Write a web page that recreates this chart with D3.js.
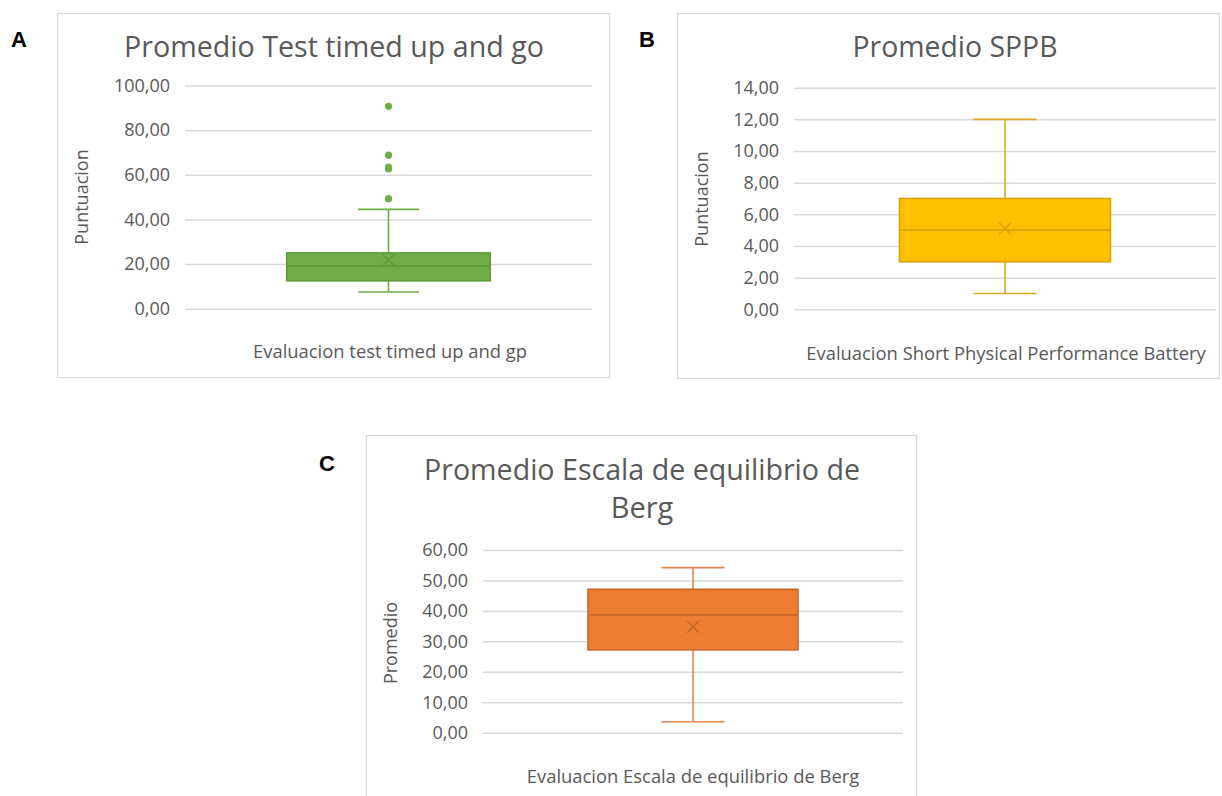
<!DOCTYPE html>
<html>
<head>
<meta charset="utf-8">
<script src="https://cdn.jsdelivr.net/npm/d3@7"></script>
<style>
  html, body { margin: 0; padding: 0; background: #ffffff; }
  svg { display: block; }
</style>
</head>
<body>
<svg id="chart" width="1222" height="796"></svg>
<script>
// ---------------- DATA ----------------
const panelLetters = ["A", "B", "C"];
const chartTitles = [
  ["Promedio Test timed up and go"],
  ["Promedio SPPB"],
  ["Promedio Escala de equilibrio de", "Berg"]
];
const categories = [
  "Evaluacion test timed up and gp",
  "Evaluacion Short Physical Performance Battery",
  "Evaluacion Escala de equilibrio de Berg"
];
const yTitles = ["Puntuacion", "Puntuacion", "Promedio"];

// box statistics: [min whisker, Q1, median, Q3, max whisker, mean]
const tugStats   = [7.5, 12.5, 19.1, 25.0, 44.5, 21.8];
const tugOutliers = [49.3, 62.6, 63.4, 68.8, 90.7];
const sppbStats  = [1.0, 3.0, 5.0, 7.0, 12.0, 5.1];
const sppbOutliers = [];
const bergStats  = [3.6, 27.2, 38.7, 47.1, 54.2, 34.8];
const bergOutliers = [];

const tugTicks  = [0, 20, 40, 60, 80, 100];
const sppbTicks = [0, 2, 4, 6, 8, 10, 12, 14];
const bergTicks = [0, 10, 20, 30, 40, 50, 60];

// ---------------- LAYOUT ----------------
const panels = [
  { stats: tugStats, outliers: tugOutliers, ticks: tugTicks,
    fill: "#70AD47", stroke: "#5F9A3B", whisker: "#70AD47",
    frame: {x: 57.5, y: 13.5, w: 552, h: 364},
    plot: {left: 185, right: 592, top: 85.5, bottom: 308.7},
    letter: {x: 11, y: 47}, title: {x: 334, y: 57, w: 420, lh: 38},
    xt: {x: 390, y: 358}, yt: {x: 83, y: 197} },
  { stats: sppbStats, outliers: sppbOutliers, ticks: sppbTicks,
    fill: "#FFC000", stroke: "#D9A400", whisker: "#DCAA22",
    frame: {x: 677.5, y: 13.5, w: 542, h: 365},
    plot: {left: 794, right: 1216, top: 87.7, bottom: 309.3},
    letter: {x: 639, y: 47}, title: {x: 955, y: 57, w: 205, lh: 38},
    xt: {x: 1006, y: 360}, yt: {x: 703, y: 199} },
  { stats: bergStats, outliers: bergOutliers, ticks: bergTicks,
    fill: "#ED7D31", stroke: "#C9672A", whisker: "#E08A55",
    frame: {x: 366.5, y: 435.5, w: 550, h: 400},
    plot: {left: 483, right: 903, top: 550, bottom: 732.7},
    letter: {x: 319, y: 471}, title: {x: 642, y: 480, w: 436, lh: 38},
    xt: {x: 693, y: 783}, yt: {x: 392, y: 643} }
];

const svg = d3.select("#chart");
const fmt = v => d3.format(".2f")(v).replace(".", ",");
const textColor = "#595959";
const font = "'Open Sans', 'Noto Sans', sans-serif";

panels.forEach((p, i) => {
  const g = svg.append("g");

  // frame
  g.append("rect")
    .attr("x", p.frame.x).attr("y", p.frame.y)
    .attr("width", p.frame.w).attr("height", p.frame.h)
    .attr("fill", "#ffffff").attr("stroke", "#d9d9d9").attr("stroke-width", 1.2);

  // panel letter
  svg.append("text")
    .attr("x", p.letter.x).attr("y", p.letter.y)
    .attr("font-family", "'Liberation Sans', Arial, sans-serif")
    .attr("font-weight", "bold").attr("font-size", 22)
    .attr("fill", "#000").text(panelLetters[i]);

  // title
  chartTitles[i].forEach((line, k) => {
    const t = g.append("text")
      .attr("x", p.title.x).attr("y", p.title.y + k * p.title.lh)
      .attr("text-anchor", "middle")
      .attr("font-family", font).attr("font-size", 29)
      .attr("fill", textColor).text(line);
    if (k === 0) t.attr("textLength", p.title.w).attr("lengthAdjust", "spacingAndGlyphs");
  });

  const yMax = d3.max(p.ticks);
  const y = d3.scaleLinear().domain([0, yMax]).range([p.plot.bottom, p.plot.top]);
  const x = d3.scaleBand().domain([categories[i]]).range([p.plot.left, p.plot.right])
    .paddingInner(0).paddingOuter(0.5);

  // gridlines
  const grid = d3.axisLeft(y).tickValues(p.ticks)
    .tickSize(-(p.plot.right - p.plot.left)).tickFormat("");
  const gg = g.append("g").attr("transform", `translate(${p.plot.left},0)`).call(grid);
  gg.select(".domain").remove();
  gg.selectAll(".tick line").attr("stroke", "#d9d9d9").attr("stroke-width", 1.5);

  // tick labels
  const ax = d3.axisLeft(y).tickValues(p.ticks).tickSize(0).tickPadding(15).tickFormat(fmt);
  const ag = g.append("g").attr("transform", `translate(${p.plot.left},0)`).call(ax);
  ag.select(".domain").remove();
  ag.selectAll(".tick text")
    .attr("font-family", font).attr("font-size", 18).attr("fill", textColor);

  // y title
  g.append("text")
    .attr("transform", `translate(${p.yt.x},${p.yt.y}) rotate(-90)`)
    .attr("text-anchor", "middle").attr("dominant-baseline", "middle")
    .attr("font-family", font).attr("font-size", 18).attr("fill", textColor)
    .text(yTitles[i]);

  // x title
  g.append("text")
    .attr("x", p.xt.x).attr("y", p.xt.y)
    .attr("text-anchor", "middle")
    .attr("font-family", font).attr("font-size", 18.4).attr("fill", textColor)
    .text(categories[i]);

  // box plot
  const [mn, q1, med, q3, mx, mean] = p.stats;
  const bx = x(categories[i]);
  const bw = x.bandwidth();
  const cx = bx + bw / 2;
  const capW = bw * 0.3;

  const wg = g.append("g").attr("stroke", p.whisker).attr("stroke-width", 1.6).attr("fill", "none");
  wg.append("line").attr("x1", cx).attr("x2", cx).attr("y1", y(q3)).attr("y2", y(mx));
  wg.append("line").attr("x1", cx).attr("x2", cx).attr("y1", y(q1)).attr("y2", y(mn));
  wg.append("line").attr("x1", cx - capW / 2).attr("x2", cx + capW / 2).attr("y1", y(mx)).attr("y2", y(mx));
  wg.append("line").attr("x1", cx - capW / 2).attr("x2", cx + capW / 2).attr("y1", y(mn)).attr("y2", y(mn));

  g.append("rect")
    .attr("x", bx).attr("y", y(q3))
    .attr("width", bw).attr("height", y(q1) - y(q3))
    .attr("fill", p.fill).attr("stroke", p.stroke).attr("stroke-width", 1.6);

  g.append("line")
    .attr("x1", bx).attr("x2", bx + bw).attr("y1", y(med)).attr("y2", y(med))
    .attr("stroke", p.stroke).attr("stroke-width", 1.6);

  // mean marker (X)
  const s = 6;
  const my = y(mean);
  g.append("path")
    .attr("d", `M${cx - s},${my - s}L${cx + s},${my + s}M${cx - s},${my + s}L${cx + s},${my - s}`)
    .attr("stroke", p.stroke).attr("stroke-width", 1.6).attr("fill", "none");

  // outliers
  g.selectAll(".outlier").data(p.outliers).enter().append("circle")
    .attr("cx", cx).attr("cy", d => y(d)).attr("r", 3.6)
    .attr("fill", p.fill);
});
</script>
</body>
</html>
